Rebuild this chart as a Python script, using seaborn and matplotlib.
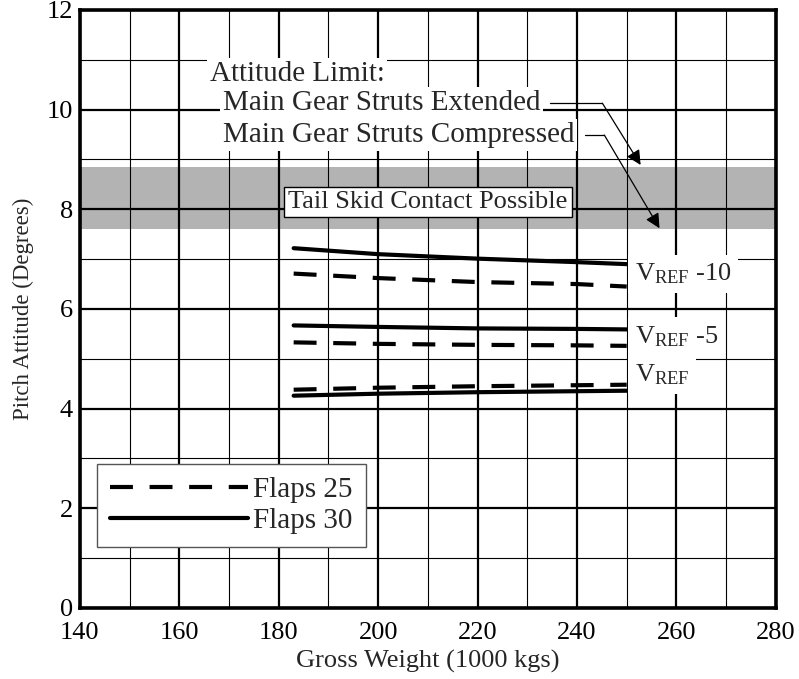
import matplotlib
matplotlib.use("Agg")
import matplotlib.pyplot as plt
import seaborn as sns
import pandas as pd
import numpy as np
from matplotlib.lines import Line2D
from matplotlib.ticker import MultipleLocator

# ---- data ----
weights = [183, 200, 220, 240, 250]
f30_vref10 = [7.22, 7.10, 7.01, 6.94, 6.90]
f25_vref10 = [6.71, 6.62, 6.54, 6.50, 6.45]
f30_vref5 = [5.67, 5.64, 5.61, 5.60, 5.59]
f25_vref5 = [5.33, 5.30, 5.28, 5.27, 5.26]
f30_vref = [4.26, 4.30, 4.33, 4.35, 4.36]
f25_vref = [4.38, 4.42, 4.45, 4.47, 4.48]

speed_labels = [r"V$_{\mathrm{REF}}$ -10", r"V$_{\mathrm{REF}}$ -5", r"V$_{\mathrm{REF}}$"]
speed_label_y = [6.70, 5.45, 4.68]
flap_labels = ["Flaps 25", "Flaps 30"]
band = (7.6, 8.85)

series = {
    ("Flaps 30", "VREF-10"): f30_vref10,
    ("Flaps 25", "VREF-10"): f25_vref10,
    ("Flaps 30", "VREF-5"): f30_vref5,
    ("Flaps 25", "VREF-5"): f25_vref5,
    ("Flaps 30", "VREF"): f30_vref,
    ("Flaps 25", "VREF"): f25_vref,
}
rows = []
for (flap, spd), vals in series.items():
    for w, v in zip(weights, vals):
        rows.append({"Weight": w, "Pitch": v, "Flaps": flap, "Speed": spd})
df = pd.DataFrame(rows)

sns.set_theme(style="white")
plt.rcParams["font.family"] = ["Liberation Serif", "DejaVu Serif"]
plt.rcParams["mathtext.fontset"] = "custom"
plt.rcParams["mathtext.rm"] = "Liberation Serif"
plt.rcParams["mathtext.it"] = "Liberation Serif:italic"

FS = 19
fig = plt.figure(figsize=(7.99, 6.79), dpi=100)
ax = fig.add_axes([0.100, 0.1046, 0.871, 0.8807])

dash_style = (5.5, 4)
sns.lineplot(data=df, x="Weight", y="Pitch", style="Flaps", units="Speed",
             estimator=None, color="black", lw=3,
             dashes={"Flaps 25": dash_style, "Flaps 30": ""},
             legend=False, ax=ax, zorder=3)

ax.set_xlim(140, 280)
ax.set_ylim(0, 12)
ax.xaxis.set_major_locator(MultipleLocator(20))
ax.xaxis.set_minor_locator(MultipleLocator(10))
ax.yaxis.set_major_locator(MultipleLocator(2))
ax.yaxis.set_minor_locator(MultipleLocator(1))
ax.grid(which="major", color="black", lw=1.6, zorder=0.5)
ax.grid(which="minor", color="black", lw=0.8, zorder=0.5)
ax.set_axisbelow(True)
ax.axhspan(band[0], band[1], color="#b3b3b3", lw=0, zorder=0.2)

for s in ax.spines.values():
    s.set_linewidth(2.6)
    s.set_color("black")
ax.tick_params(which="major", direction="out", length=4, width=1.5,
               labelsize=FS, colors="black")
ax.tick_params(axis="x", which="major", pad=6)
ax.tick_params(axis="y", which="major", pad=1)
ax.tick_params(which="minor", length=0)
ax.set_xlabel("Gross Weight (1000 kgs)", fontsize=FS, labelpad=4)
ax.set_ylabel("Pitch Attitude (Degrees)", fontsize=16.5, labelpad=9)

# annotations
AF = 21
wb = dict(facecolor="white", edgecolor="none", pad=2)
ax.text(166.1, 10.72, "Attitude Limit:", fontsize=AF, va="center", ha="left",
        bbox=wb, zorder=4)
ax.text(168.8, 10.13, "Main Gear Struts Extended", fontsize=AF, va="center",
        ha="left", bbox=wb, zorder=4)
ax.text(168.8, 9.49, "Main Gear Struts Compressed", fontsize=AF, va="center",
        ha="left", bbox=wb, zorder=4)

ax.plot([234.6, 245.1], [10.13, 10.13], color="black", lw=0.9, zorder=4)
ax.annotate("", xy=(252.8, 8.89), xytext=(245.1, 10.13),
            arrowprops=dict(arrowstyle="-|>", color="black", lw=0.9,
                            mutation_scale=22, shrinkA=0, shrinkB=0), zorder=4)
ax.plot([241.6, 245.5], [9.49, 9.49], color="black", lw=0.9, zorder=4)
ax.annotate("", xy=(256.6, 7.62), xytext=(245.5, 9.49),
            arrowprops=dict(arrowstyle="-|>", color="black", lw=0.9,
                            mutation_scale=22, shrinkA=0, shrinkB=0), zorder=4)

ax.text(210, 8.15, "Tail Skid Contact Possible", fontsize=19, va="center",
        ha="center", zorder=4,
        bbox=dict(facecolor="white", edgecolor="black", lw=1, pad=3))

for lab, yy in zip(speed_labels, speed_label_y):
    ax.text(251.6, yy, lab, fontsize=FS, va="center", ha="left", zorder=4,
            bbox=dict(facecolor="white", edgecolor="none", pad=5))

handles = [Line2D([], [], color="black", lw=3, dashes=dash_style),
           Line2D([], [], color="black", lw=3)]
leg = ax.legend(handles, flap_labels, loc="lower left",
                bbox_to_anchor=(0.025, 0.102), fontsize=21,
                handlelength=4.7, handletextpad=0.2, borderpad=0.45,
                labelspacing=0.15, fancybox=False, framealpha=1,
                edgecolor="#555555", borderaxespad=0)
leg.get_frame().set_linewidth(1.0)
leg.set_zorder(5)

fig.savefig("out.png", dpi=100)
